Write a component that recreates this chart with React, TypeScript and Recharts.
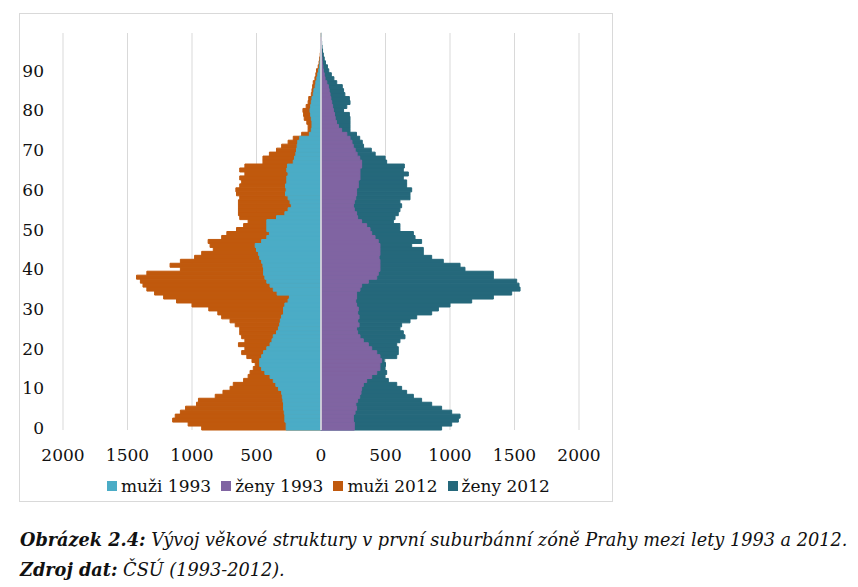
import { BarChart, Bar, XAxis, YAxis, CartesianGrid, Legend, ReferenceLine } from 'recharts';

// ages 0..99 (věk)
const ages = Array.from({ length: 100 }, (_, i) => i);

const muzi1993 = [
  270, 270, 280, 280, 285, 290, 290, 295, 300, 305,
  330, 350, 370, 395, 435, 460, 475, 475, 460, 445,
  420, 395, 380, 370, 345, 330, 320, 315, 305, 290,
  290, 280, 255, 245, 340, 370, 395, 420, 435, 445,
  445, 450, 460, 475, 485, 500, 510, 460, 420, 400,
  420, 420, 420, 345, 280, 255, 230, 240, 255, 275,
  270, 275, 265, 265, 255, 265, 260, 215, 205, 195,
  190, 185, 180, 165, 90, 75, 70, 70, 75, 80,
  85, 80, 75, 70, 60, 55, 45, 40, 32, 25,
  18, 12, 8, 5, 3, 2, 1, 1, 0, 0,
];

const zeny1993 = [
  258, 258, 251, 251, 264, 276, 270, 284, 300, 310,
  315, 328, 354, 393, 432, 457, 457, 470, 457, 432,
  393, 367, 328, 302, 284, 276, 295, 284, 295, 284,
  289, 276, 269, 276, 276, 302, 315, 367, 432, 444,
  457, 457, 457, 450, 457, 457, 457, 444, 419, 393,
  380, 354, 315, 284, 276, 258, 251, 258, 269, 276,
  276, 289, 289, 302, 302, 302, 315, 315, 300, 280,
  265, 250, 240, 225, 200, 160, 135, 120, 110, 105,
  96, 90, 83, 76, 70, 63, 57, 45, 31, 25,
  18, 14, 10, 8, 5, 3, 2, 1, 1, 0,
];

const muzi2012 = [
  925, 1030, 1150, 1130, 1090, 1050, 965, 950, 820, 760,
  705, 680, 600, 565, 550, 525, 510, 535, 575, 615,
  590, 640, 590, 615, 630, 630, 665, 705, 770, 800,
  870, 1000, 1120, 1220, 1290, 1350, 1380, 1400, 1430, 1350,
  1090, 1170, 1090, 980, 925, 835, 860, 875, 770, 730,
  655, 600, 565, 630, 640, 640, 640, 640, 630, 655,
  660, 630, 615, 630, 590, 630, 590, 450, 450, 400,
  345, 305, 255, 215, 150, 100, 100, 110, 130, 135,
  140, 115, 100, 95, 75, 70, 65, 60, 47, 40,
  35, 22, 15, 10, 6, 4, 3, 2, 1, 1,
];

const zeny2012 = [
  935, 1013, 1065, 1078, 1013, 935, 858, 780, 716, 664,
  625, 587, 522, 496, 509, 496, 500, 490, 587, 599,
  599, 587, 612, 651, 638, 612, 625, 690, 742, 858,
  910, 1000, 1168, 1336, 1478, 1543, 1535, 1517, 1336, 1336,
  1116, 1078, 948, 858, 793, 793, 703, 780, 729, 716,
  612, 612, 561, 574, 599, 612, 625, 612, 690, 690,
  703, 664, 664, 638, 677, 638, 646, 509, 497, 420,
  390, 330, 320, 300, 275, 225, 225, 225, 225, 220,
  175, 200, 225, 220, 185, 175, 165, 122, 100, 80,
  60, 50, 35, 25, 18, 12, 8, 5, 3, 2,
];

const xTicks = [-2000, -1500, -1000, -500, 0, 500, 1000, 1500, 2000];

const COLORS = {
  muzi1993: '#4bacc6',
  zeny1993: '#8064a2',
  muzi2012: '#c0590d',
  zeny2012: '#25687b',
};

const legendItems = [
  { name: 'muži 1993', color: COLORS.muzi1993 },
  { name: 'ženy 1993', color: COLORS.zeny1993 },
  { name: 'muži 2012', color: COLORS.muzi2012 },
  { name: 'ženy 2012', color: COLORS.zeny2012 },
];

// men go to the left, so negative values
const chartData = ages.map((age, i) => ({
  age,
  muzi1993: -muzi1993[i],
  zeny1993: zeny1993[i],
  muzi2012: -muzi2012[i],
  zeny2012: zeny2012[i],
}));

const FONT = '"DejaVu Serif", serif';

const PyramidLegend = () => (
  <div style={{ display: 'flex', alignItems: 'center', fontFamily: FONT, fontSize: 17, color: '#111', lineHeight: '22px' }}>
    {legendItems.map((item) => (
      <div key={item.name} style={{ display: 'flex', alignItems: 'center', marginRight: 10 }}>
        <span style={{ display: 'inline-block', width: 10, height: 10, background: item.color, marginRight: 4 }} />
        <span>{item.name}</span>
      </div>
    ))}
  </div>
);

export default function App() {
  return (
    <div style={{ position: 'absolute', left: 0, top: 0, width: 858, height: 587, background: '#fff' }}>
      <div
        style={{
          position: 'absolute',
          left: 19,
          top: 13,
          width: 592,
          height: 487,
          border: '1px solid #d9d9d9',
        }}
      >
        <BarChart
          width={592}
          height={487}
          data={chartData}
          layout="vertical"
          barCategoryGap={0}
          barGap="-100%"
          margin={{ top: 19, right: 33, left: 0, bottom: 41 }}
        >
          <CartesianGrid horizontal={false} stroke="#d9d9d9" />
          <XAxis
            type="number"
            domain={[-2000, 2000]}
            ticks={xTicks}
            tickFormatter={(v: number) => String(Math.abs(v))}
            axisLine={false}
            tickLine={false}
            tickSize={0}
            tickMargin={19}
            height={30}
            tick={{ fill: '#111', fontSize: 17, fontFamily: FONT }}
          />
          <YAxis
            type="category"
            dataKey="age"
            reversed
            interval={0}
            width={43}
            axisLine={false}
            tickLine={false}
            tickSize={0}
            tickMargin={19}
            tickFormatter={(v: number) => (v % 10 === 0 ? String(v) : '')}
            tick={{ fill: '#111', fontSize: 17, fontFamily: FONT }}
          />
          <Legend
            verticalAlign="middle"
            align="center"
            content={<PyramidLegend />}
            wrapperStyle={{ top: 461, left: 87, width: 'auto' }}
          />
          <Bar dataKey="muzi2012" name="muži 2012" fill={COLORS.muzi2012} stroke={COLORS.muzi2012} strokeWidth={1} isAnimationActive={false} />
          <Bar dataKey="zeny2012" name="ženy 2012" fill={COLORS.zeny2012} stroke={COLORS.zeny2012} strokeWidth={1} isAnimationActive={false} />
          <Bar dataKey="muzi1993" name="muži 1993" fill={COLORS.muzi1993} stroke={COLORS.muzi1993} strokeWidth={1} isAnimationActive={false} />
          <Bar dataKey="zeny1993" name="ženy 1993" fill={COLORS.zeny1993} stroke={COLORS.zeny1993} strokeWidth={1} isAnimationActive={false} />
          <ReferenceLine x={0} stroke="#e6e6e6" strokeWidth={1.5} />
        </BarChart>
      </div>
      <div
        style={{
          position: 'absolute',
          left: 20,
          top: 525,
          fontFamily: FONT,
          fontStyle: 'italic',
          fontSize: 17.7,
          lineHeight: '30px',
          color: '#111',
          whiteSpace: 'nowrap',
        }}
      >
        <div>
          <b>Obrázek 2.4:</b> Vývoj věkové struktury v první suburbánní zóně Prahy mezi lety 1993 a 2012.
        </div>
        <div>
          <b>Zdroj dat:</b> ČSÚ (1993-2012).
        </div>
      </div>
    </div>
  );
}
